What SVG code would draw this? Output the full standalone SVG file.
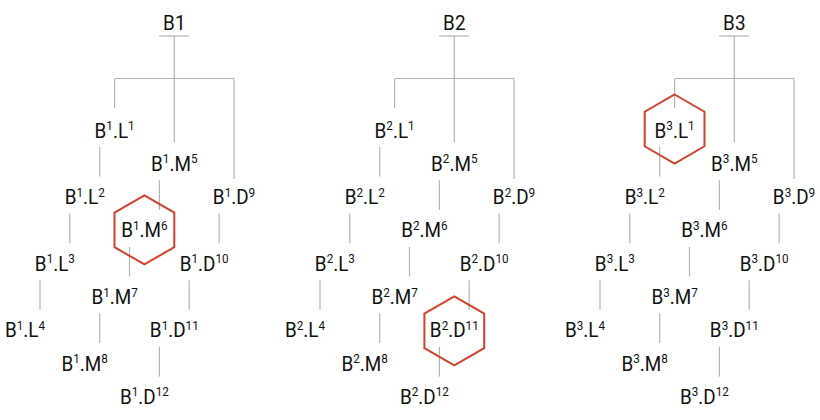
<svg xmlns="http://www.w3.org/2000/svg" xmlns:xlink="http://www.w3.org/1999/xlink" width="820" height="420" viewBox="0 0 820 420">
<style>
text{font-family:Roboto,"Liberation Sans",sans-serif;font-size:21px;fill:#111;text-anchor:middle}
.s{font-size:13px}
.c line{stroke:#b4b4b4;stroke-width:1.2;fill:none}
.hex{fill:none;stroke:#d0422a;stroke-width:2}
</style>
<defs>
<polygon id="hx" class="hex" points="0,-34.5 29.9,-17.25 29.9,17.25 0,34.5 -29.9,17.25 -29.9,-17.25"/>
</defs>

<!-- connectors -->
<g id="connectors" class="c">
 <g id="conn-B1">
  <line x1="159" y1="36" x2="189" y2="36"/>
  <line x1="174.3" y1="36" x2="174.3" y2="78.5"/>
  <line x1="114.6" y1="78.5" x2="234" y2="78.5"/>
  <line x1="114.6" y1="78.5" x2="114.6" y2="108"/>
  <line x1="174.3" y1="78.5" x2="174.3" y2="142"/>
  <line x1="234" y1="78.5" x2="234" y2="179"/>
  <line x1="99.7" y1="147" x2="99.7" y2="176.6"/>
  <line x1="69.8" y1="213.6" x2="69.8" y2="243.2"/>
  <line x1="40" y1="280.2" x2="40" y2="309.8"/>
  <line x1="159.4" y1="180.3" x2="159.4" y2="209.9"/>
  <line x1="129.5" y1="246.9" x2="129.5" y2="276.5"/>
  <line x1="99.7" y1="313.5" x2="99.7" y2="343.1"/>
  <line x1="219.1" y1="213.6" x2="219.1" y2="243.2"/>
  <line x1="189.2" y1="280.2" x2="189.2" y2="309.8"/>
  <line x1="159.4" y1="346.8" x2="159.4" y2="376.4"/>
 </g>
 <g id="conn-B2" transform="translate(280,0)">
  <line x1="159" y1="36" x2="189" y2="36"/>
  <line x1="174.3" y1="36" x2="174.3" y2="78.5"/>
  <line x1="114.6" y1="78.5" x2="234" y2="78.5"/>
  <line x1="114.6" y1="78.5" x2="114.6" y2="108"/>
  <line x1="174.3" y1="78.5" x2="174.3" y2="142"/>
  <line x1="234" y1="78.5" x2="234" y2="179"/>
  <line x1="99.7" y1="147" x2="99.7" y2="176.6"/>
  <line x1="69.8" y1="213.6" x2="69.8" y2="243.2"/>
  <line x1="40" y1="280.2" x2="40" y2="309.8"/>
  <line x1="159.4" y1="180.3" x2="159.4" y2="209.9"/>
  <line x1="129.5" y1="246.9" x2="129.5" y2="276.5"/>
  <line x1="99.7" y1="313.5" x2="99.7" y2="343.1"/>
  <line x1="219.1" y1="213.6" x2="219.1" y2="243.2"/>
  <line x1="189.2" y1="280.2" x2="189.2" y2="309.8"/>
  <line x1="159.4" y1="346.8" x2="159.4" y2="376.4"/>
 </g>
 <g id="conn-B3" transform="translate(560,0)">
  <line x1="159" y1="36" x2="189" y2="36"/>
  <line x1="174.3" y1="36" x2="174.3" y2="78.5"/>
  <line x1="114.6" y1="78.5" x2="234" y2="78.5"/>
  <line x1="114.6" y1="78.5" x2="114.6" y2="108"/>
  <line x1="174.3" y1="78.5" x2="174.3" y2="142"/>
  <line x1="234" y1="78.5" x2="234" y2="179"/>
  <line x1="99.7" y1="147" x2="99.7" y2="176.6"/>
  <line x1="69.8" y1="213.6" x2="69.8" y2="243.2"/>
  <line x1="40" y1="280.2" x2="40" y2="309.8"/>
  <line x1="159.4" y1="180.3" x2="159.4" y2="209.9"/>
  <line x1="129.5" y1="246.9" x2="129.5" y2="276.5"/>
  <line x1="99.7" y1="313.5" x2="99.7" y2="343.1"/>
  <line x1="219.1" y1="213.6" x2="219.1" y2="243.2"/>
  <line x1="189.2" y1="280.2" x2="189.2" y2="309.8"/>
  <line x1="159.4" y1="346.8" x2="159.4" y2="376.4"/>
 </g>
</g>

<!-- tree B1 -->
<g id="B1"><text transform="translate(174.3,30) scale(0.9,1)">B1</text></g>
<g id="B1-L1"><text transform="translate(114.6,137.5) scale(0.9,1)">B<tspan class="s" dy="-7.5">1</tspan><tspan dy="7.5">.L</tspan><tspan class="s" dy="-7.5">1</tspan></text></g>
<g id="B1-L2"><text transform="translate(84.7,204.1) scale(0.9,1)">B<tspan class="s" dy="-7.5">1</tspan><tspan dy="7.5">.L</tspan><tspan class="s" dy="-7.5">2</tspan></text></g>
<g id="B1-L3"><text transform="translate(54.9,270.7) scale(0.9,1)">B<tspan class="s" dy="-7.5">1</tspan><tspan dy="7.5">.L</tspan><tspan class="s" dy="-7.5">3</tspan></text></g>
<g id="B1-L4"><text transform="translate(25,337.3) scale(0.9,1)">B<tspan class="s" dy="-7.5">1</tspan><tspan dy="7.5">.L</tspan><tspan class="s" dy="-7.5">4</tspan></text></g>
<g id="B1-M5"><text transform="translate(174.3,170.8) scale(0.9,1)">B<tspan class="s" dy="-7.5">1</tspan><tspan dy="7.5">.M</tspan><tspan class="s" dy="-7.5">5</tspan></text></g>
<g id="B1-M6"><use xlink:href="#hx" x="144.4" y="229.9"/><text transform="translate(144.4,237.4) scale(0.9,1)">B<tspan class="s" dy="-7.5">1</tspan><tspan dy="7.5">.M</tspan><tspan class="s" dy="-7.5">6</tspan></text></g>
<g id="B1-M7"><text transform="translate(114.6,304) scale(0.9,1)">B<tspan class="s" dy="-7.5">1</tspan><tspan dy="7.5">.M</tspan><tspan class="s" dy="-7.5">7</tspan></text></g>
<g id="B1-M8"><text transform="translate(84.7,370.6) scale(0.9,1)">B<tspan class="s" dy="-7.5">1</tspan><tspan dy="7.5">.M</tspan><tspan class="s" dy="-7.5">8</tspan></text></g>
<g id="B1-D9"><text transform="translate(234,204.1) scale(0.9,1)">B<tspan class="s" dy="-7.5">1</tspan><tspan dy="7.5">.D</tspan><tspan class="s" dy="-7.5">9</tspan></text></g>
<g id="B1-D10"><text transform="translate(204.2,270.7) scale(0.9,1)">B<tspan class="s" dy="-7.5">1</tspan><tspan dy="7.5">.D</tspan><tspan class="s" dy="-7.5">10</tspan></text></g>
<g id="B1-D11"><text transform="translate(174.3,337.3) scale(0.9,1)">B<tspan class="s" dy="-7.5">1</tspan><tspan dy="7.5">.D</tspan><tspan class="s" dy="-7.5">11</tspan></text></g>
<g id="B1-D12"><text transform="translate(144.4,403.9) scale(0.9,1)">B<tspan class="s" dy="-7.5">1</tspan><tspan dy="7.5">.D</tspan><tspan class="s" dy="-7.5">12</tspan></text></g>

<!-- tree B2 -->
<g id="B2"><text transform="translate(454.3,30) scale(0.9,1)">B2</text></g>
<g id="B2-L1"><text transform="translate(394.6,137.5) scale(0.9,1)">B<tspan class="s" dy="-7.5">2</tspan><tspan dy="7.5">.L</tspan><tspan class="s" dy="-7.5">1</tspan></text></g>
<g id="B2-L2"><text transform="translate(364.7,204.1) scale(0.9,1)">B<tspan class="s" dy="-7.5">2</tspan><tspan dy="7.5">.L</tspan><tspan class="s" dy="-7.5">2</tspan></text></g>
<g id="B2-L3"><text transform="translate(334.9,270.7) scale(0.9,1)">B<tspan class="s" dy="-7.5">2</tspan><tspan dy="7.5">.L</tspan><tspan class="s" dy="-7.5">3</tspan></text></g>
<g id="B2-L4"><text transform="translate(305,337.3) scale(0.9,1)">B<tspan class="s" dy="-7.5">2</tspan><tspan dy="7.5">.L</tspan><tspan class="s" dy="-7.5">4</tspan></text></g>
<g id="B2-M5"><text transform="translate(454.3,170.8) scale(0.9,1)">B<tspan class="s" dy="-7.5">2</tspan><tspan dy="7.5">.M</tspan><tspan class="s" dy="-7.5">5</tspan></text></g>
<g id="B2-M6"><text transform="translate(424.4,237.4) scale(0.9,1)">B<tspan class="s" dy="-7.5">2</tspan><tspan dy="7.5">.M</tspan><tspan class="s" dy="-7.5">6</tspan></text></g>
<g id="B2-M7"><text transform="translate(394.6,304) scale(0.9,1)">B<tspan class="s" dy="-7.5">2</tspan><tspan dy="7.5">.M</tspan><tspan class="s" dy="-7.5">7</tspan></text></g>
<g id="B2-M8"><text transform="translate(364.7,370.6) scale(0.9,1)">B<tspan class="s" dy="-7.5">2</tspan><tspan dy="7.5">.M</tspan><tspan class="s" dy="-7.5">8</tspan></text></g>
<g id="B2-D9"><text transform="translate(514,204.1) scale(0.9,1)">B<tspan class="s" dy="-7.5">2</tspan><tspan dy="7.5">.D</tspan><tspan class="s" dy="-7.5">9</tspan></text></g>
<g id="B2-D10"><text transform="translate(484.2,270.7) scale(0.9,1)">B<tspan class="s" dy="-7.5">2</tspan><tspan dy="7.5">.D</tspan><tspan class="s" dy="-7.5">10</tspan></text></g>
<g id="B2-D11"><use xlink:href="#hx" x="454.3" y="330.8"/><text transform="translate(454.3,337.3) scale(0.9,1)">B<tspan class="s" dy="-7.5">2</tspan><tspan dy="7.5">.D</tspan><tspan class="s" dy="-7.5">11</tspan></text></g>
<g id="B2-D12"><text transform="translate(424.4,403.9) scale(0.9,1)">B<tspan class="s" dy="-7.5">2</tspan><tspan dy="7.5">.D</tspan><tspan class="s" dy="-7.5">12</tspan></text></g>

<!-- tree B3 -->
<g id="B3"><text transform="translate(734.3,30) scale(0.9,1)">B3</text></g>
<g id="B3-L1"><use xlink:href="#hx" x="674.6" y="129"/><text transform="translate(674.6,137.5) scale(0.9,1)">B<tspan class="s" dy="-7.5">3</tspan><tspan dy="7.5">.L</tspan><tspan class="s" dy="-7.5">1</tspan></text></g>
<g id="B3-L2"><text transform="translate(644.7,204.1) scale(0.9,1)">B<tspan class="s" dy="-7.5">3</tspan><tspan dy="7.5">.L</tspan><tspan class="s" dy="-7.5">2</tspan></text></g>
<g id="B3-L3"><text transform="translate(614.9,270.7) scale(0.9,1)">B<tspan class="s" dy="-7.5">3</tspan><tspan dy="7.5">.L</tspan><tspan class="s" dy="-7.5">3</tspan></text></g>
<g id="B3-L4"><text transform="translate(585,337.3) scale(0.9,1)">B<tspan class="s" dy="-7.5">3</tspan><tspan dy="7.5">.L</tspan><tspan class="s" dy="-7.5">4</tspan></text></g>
<g id="B3-M5"><text transform="translate(734.3,170.8) scale(0.9,1)">B<tspan class="s" dy="-7.5">3</tspan><tspan dy="7.5">.M</tspan><tspan class="s" dy="-7.5">5</tspan></text></g>
<g id="B3-M6"><text transform="translate(704.4,237.4) scale(0.9,1)">B<tspan class="s" dy="-7.5">3</tspan><tspan dy="7.5">.M</tspan><tspan class="s" dy="-7.5">6</tspan></text></g>
<g id="B3-M7"><text transform="translate(674.6,304) scale(0.9,1)">B<tspan class="s" dy="-7.5">3</tspan><tspan dy="7.5">.M</tspan><tspan class="s" dy="-7.5">7</tspan></text></g>
<g id="B3-M8"><text transform="translate(644.7,370.6) scale(0.9,1)">B<tspan class="s" dy="-7.5">3</tspan><tspan dy="7.5">.M</tspan><tspan class="s" dy="-7.5">8</tspan></text></g>
<g id="B3-D9"><text transform="translate(794,204.1) scale(0.9,1)">B<tspan class="s" dy="-7.5">3</tspan><tspan dy="7.5">.D</tspan><tspan class="s" dy="-7.5">9</tspan></text></g>
<g id="B3-D10"><text transform="translate(764.2,270.7) scale(0.9,1)">B<tspan class="s" dy="-7.5">3</tspan><tspan dy="7.5">.D</tspan><tspan class="s" dy="-7.5">10</tspan></text></g>
<g id="B3-D11"><text transform="translate(734.3,337.3) scale(0.9,1)">B<tspan class="s" dy="-7.5">3</tspan><tspan dy="7.5">.D</tspan><tspan class="s" dy="-7.5">11</tspan></text></g>
<g id="B3-D12"><text transform="translate(704.4,403.9) scale(0.9,1)">B<tspan class="s" dy="-7.5">3</tspan><tspan dy="7.5">.D</tspan><tspan class="s" dy="-7.5">12</tspan></text></g>
</svg>
